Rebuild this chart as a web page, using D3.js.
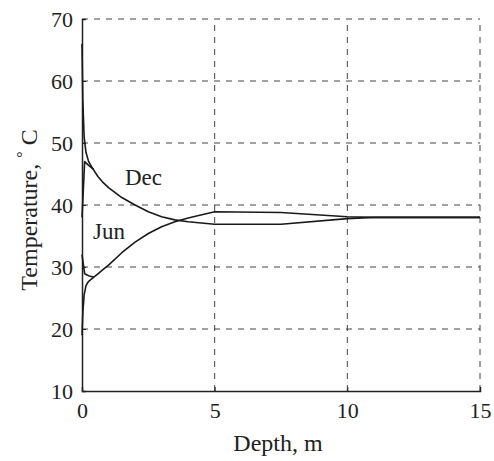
<!DOCTYPE html>
<html><head><meta charset="utf-8">
<script src="https://cdn.jsdelivr.net/npm/d3@7/dist/d3.min.js"></script>
<style>body{margin:0;background:#fff}svg{display:block}
text{font-family:"Liberation Serif","Times New Roman",Times,Tinos,"Noto Serif","DejaVu Serif","FreeSerif",serif !important}</style>
</head><body>
<svg id="c" width="494" height="461"></svg>
<script>
const xTicks = [0, 5, 10, 15];
const yTicks = [10, 20, 30, 40, 50, 60, 70];
const depthDec = [0, 0.03, 0.08, 0.15, 0.25, 0.4, 0.6, 0.8, 1.0, 1.5, 2.0, 2.5, 3.0, 3.5, 4.0, 4.5, 5.0, 7.5, 10, 11, 12, 15];
const tempDec  = [66, 57, 51, 48.5, 47, 45.9, 44.6, 43.6, 42.8, 41.2, 40.0, 38.9, 38.1, 37.6, 37.3, 37.1, 36.9, 36.9, 37.8, 38.0, 38.0, 38.0];
const depthJun = [0, 0.03, 0.08, 0.15, 0.25, 0.4, 0.6, 0.8, 1.0, 1.5, 2.0, 2.5, 3.0, 3.5, 4.0, 5.0, 7.5, 10, 11, 15];
const tempJun  = [19, 22.5, 25.5, 27, 27.7, 28.2, 28.9, 29.6, 30.3, 32.3, 34.0, 35.4, 36.5, 37.3, 37.9, 38.9, 38.8, 38.1, 38.0, 38.0];
const depthDec2 = [0, 0.1, 0.25, 0.45];
const tempDec2  = [38, 47, 46.4, 45.7];
const depthJun2 = [0, 0.1, 0.25, 0.45];
const tempJun2  = [32, 28.9, 28.6, 28.35];
const seriesLabels = ["Dec", "Jun"];

const svg = d3.select("#c");
const font = "Liberation Serif, Times New Roman, serif";
const x = d3.scaleLinear().domain([0, 15]).range([82, 480]);
const y = d3.scaleLinear().domain([10, 70]).range([391, 19]);
const grid = "#444";

// grid lines (dashed)
svg.append("g").selectAll("line.v").data([5, 10, 15]).join("line")
  .attr("x1", d => x(d)).attr("x2", d => x(d)).attr("y1", y(10)).attr("y2", y(70))
  .attr("stroke", grid).attr("stroke-width", 1).attr("stroke-dasharray", "6,6");
svg.append("g").selectAll("line.h").data([20, 30, 40, 50, 60, 70]).join("line")
  .attr("x1", x(0)).attr("x2", x(15)).attr("y1", d => y(d)).attr("y2", d => y(d))
  .attr("stroke", grid).attr("stroke-width", 1).attr("stroke-dasharray", "6,6");

// axes
const xAxis = d3.axisBottom(x).tickValues(xTicks).tickSize(-4).tickPadding(16);
const gx = svg.append("g").attr("transform", `translate(0,${y(10)})`).call(xAxis);
const yAxis = d3.axisLeft(y).tickValues(yTicks).tickSize(-4).tickPadding(9);
const gy = svg.append("g").attr("transform", `translate(${x(0)},0)`).call(yAxis);
[gx, gy].forEach(g => {
  g.attr("font-family", font).attr("font-size", 22);
  g.select(".domain").attr("stroke", "#222").attr("stroke-width", 1.5);
  g.selectAll(".tick line").attr("stroke", "#222");
  g.selectAll("text").attr("fill", "#222");
});
gx.selectAll(".tick text").attr("dy", "0.5em");

// curves
const line = d3.line().x(d => x(d[0])).y(d => y(d[1]));
const series = [
  d3.zip(depthDec, tempDec), d3.zip(depthJun, tempJun),
  d3.zip(depthDec2, tempDec2), d3.zip(depthJun2, tempJun2)
];
svg.append("g").selectAll("path").data(series).join("path")
  .attr("d", line).attr("fill", "none").attr("stroke", "#1a1a1a")
  .attr("stroke-width", 1.6).attr("stroke-linejoin", "round");

// series labels
svg.append("text").attr("x", 125).attr("y", 185).text(seriesLabels[0])
  .attr("font-size", 23).attr("fill", "#222");
svg.append("text").attr("x", 93).attr("y", 239).text(seriesLabels[1])
  .attr("font-size", 23).attr("fill", "#222");

// axis titles
svg.append("text").attr("x", 278).attr("y", 451).attr("text-anchor", "middle")
  .attr("font-size", 24).attr("fill", "#222").text("Depth, m");
const yt = svg.append("text").attr("transform", "translate(37,210) rotate(-90)")
  .attr("text-anchor", "middle").attr("font-size", 24).attr("fill", "#222");
yt.append("tspan").text("Temperature, ");
yt.append("tspan").attr("font-size", 16).attr("dy", -9).text("°");
yt.append("tspan").attr("dy", 9).text(" C");
</script>
</body></html>
